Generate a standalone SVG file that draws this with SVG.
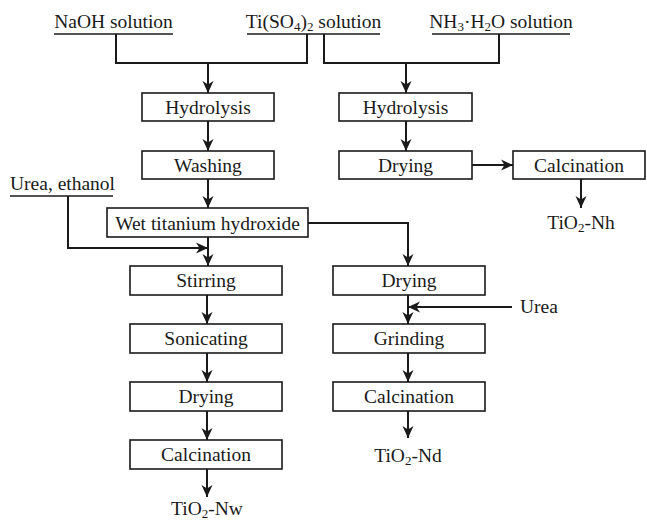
<svg xmlns="http://www.w3.org/2000/svg" width="647" height="521" viewBox="0 0 647 521">
<style>
text{font-family:"Liberation Serif","Times New Roman",serif;font-size:19.5px;fill:#1a1a1a}
.c{text-anchor:middle}
.box{fill:#fff;stroke:#1a1a1a;stroke-width:1.6}
.ul{stroke:#1a1a1a;stroke-width:1.6;fill:none}
.ln{stroke:#1a1a1a;stroke-width:2;fill:none}
.ar{stroke:#1a1a1a;stroke-width:2;fill:none;marker-end:url(#ah)}
.sub{font-size:13px}
</style>
<defs>
<marker id="ah" markerUnits="userSpaceOnUse" viewBox="0 0 12 12" markerWidth="12" markerHeight="12" refX="12" refY="6" orient="auto">
<path d="M0,0.5 L12,6 L0,11.5 L3.5,6 z" fill="#1a1a1a"/>
</marker>
</defs>
<rect width="647" height="521" fill="#fff"/>
<g id="connectors">
<path class="ln" d="M116,34 V63 H307 V34"/>
<path class="ar" d="M208,63 V93"/>
<path class="ln" d="M324,34 V63 H499 V34"/>
<path class="ar" d="M406,63 V93"/>
<path class="ar" d="M208,121 V151"/>
<path class="ar" d="M208,179 V208"/>
<path class="ar" d="M208,237 V266"/>
<path class="ar" d="M68,196 V248 H208"/>
<path class="ar" d="M308,223 H408 V266"/>
<path class="ar" d="M406,121 V151"/>
<path class="ar" d="M472,165 H513"/>
<path class="ar" d="M581,179 V208"/>
<path class="ar" d="M207,295 V324"/>
<path class="ar" d="M207,353 V382"/>
<path class="ar" d="M207,411 V440"/>
<path class="ar" d="M207,469 V497"/>
<path class="ar" d="M408,295 V324"/>
<path class="ar" d="M512,307 H408"/>
<path class="ar" d="M408,353 V382"/>
<path class="ar" d="M408,411 V438"/>
</g>
<g id="naoh"><text class="c" x="113.5" y="28">NaOH solution</text><line class="ul" x1="54" y1="34" x2="173" y2="34"/></g>
<g id="tiso4"><text class="c" x="313.5" y="28">Ti(SO<tspan class="sub" dy="3">4</tspan><tspan dy="-3">)</tspan><tspan class="sub" dy="3">2</tspan><tspan dy="-3"> solution</tspan></text><line class="ul" x1="247" y1="34" x2="380" y2="34"/></g>
<g id="nh3"><text class="c" x="501" y="28">NH<tspan class="sub" dy="3">3</tspan><tspan dy="-3">·H</tspan><tspan class="sub" dy="3">2</tspan><tspan dy="-3">O solution</tspan></text><line class="ul" x1="432" y1="34" x2="570" y2="34"/></g>
<g id="hydro1"><rect class="box" x="142" y="93" width="132" height="28"/><text class="c" x="208" y="114">Hydrolysis</text></g>
<g id="hydro2"><rect class="box" x="339" y="93" width="133" height="28"/><text class="c" x="405.5" y="114">Hydrolysis</text></g>
<g id="washing"><rect class="box" x="142" y="151" width="132" height="28"/><text class="c" x="208" y="172">Washing</text></g>
<g id="drying-h"><rect class="box" x="339" y="151" width="133" height="28"/><text class="c" x="405.5" y="172">Drying</text></g>
<g id="calc-h"><rect class="box" x="513" y="151" width="132" height="28"/><text class="c" x="579" y="172">Calcination</text></g>
<g id="tio2nh"><text class="c" x="581" y="229">TiO<tspan class="sub" dy="3">2</tspan><tspan dy="-3">-Nh</tspan></text></g>
<g id="urea-ethanol"><text x="10" y="190">Urea, ethanol</text><line class="ul" x1="10" y1="196" x2="113" y2="196"/></g>
<g id="wet"><rect class="box" x="107" y="208" width="201" height="29"/><text class="c" x="207.5" y="229.5">Wet titanium hydroxide</text></g>
<g id="stirring"><rect class="box" x="130" y="266" width="152" height="29"/><text class="c" x="206" y="287">Stirring</text></g>
<g id="sonicating"><rect class="box" x="130" y="324" width="152" height="29"/><text class="c" x="206" y="345">Sonicating</text></g>
<g id="drying-w"><rect class="box" x="130" y="382" width="152" height="29"/><text class="c" x="206" y="403">Drying</text></g>
<g id="calc-w"><rect class="box" x="130" y="440" width="152" height="29"/><text class="c" x="206" y="461">Calcination</text></g>
<g id="tio2nw"><text class="c" x="207" y="515">TiO<tspan class="sub" dy="3">2</tspan><tspan dy="-3">-Nw</tspan></text></g>
<g id="drying-d"><rect class="box" x="333" y="266" width="152" height="29"/><text class="c" x="409" y="287">Drying</text></g>
<g id="urea"><text x="520" y="313">Urea</text></g>
<g id="grinding"><rect class="box" x="333" y="324" width="152" height="29"/><text class="c" x="409" y="345">Grinding</text></g>
<g id="calc-d"><rect class="box" x="333" y="382" width="152" height="29"/><text class="c" x="409" y="403">Calcination</text></g>
<g id="tio2nd"><text class="c" x="408" y="462">TiO<tspan class="sub" dy="3">2</tspan><tspan dy="-3">-Nd</tspan></text></g>
</svg>
